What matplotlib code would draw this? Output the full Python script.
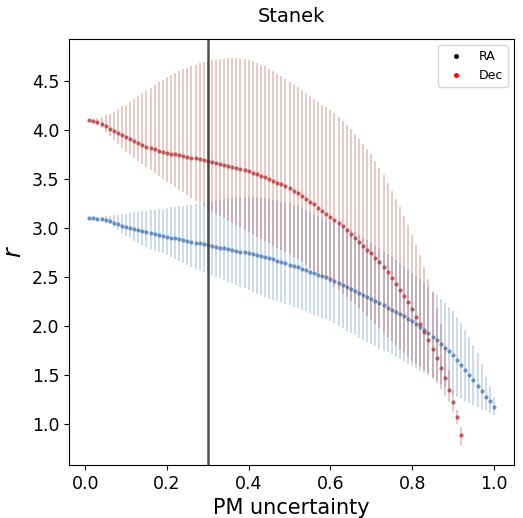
import numpy as np
import matplotlib
matplotlib.use('Agg')
from matplotlib import pyplot as plt

# PM uncertainty grid (0.01 steps)
pm_ra = np.round(np.arange(1, 101) / 100, 2)
pm_dec = np.round(np.arange(1, 93) / 100, 2)

# RA (blue): best r and lower / upper bounds
r_ra = [3.10, 3.10, 3.09, 3.09, 3.08, 3.07, 3.05, 3.04, 3.02, 3.01,
        3.00, 2.99, 2.98, 2.97, 2.96, 2.95, 2.94, 2.93, 2.92, 2.91,
        2.90, 2.90, 2.89, 2.88, 2.87, 2.86, 2.85, 2.85, 2.84, 2.83,
        2.82, 2.81, 2.80, 2.80, 2.79, 2.78, 2.77, 2.76, 2.75, 2.74,
        2.73, 2.72, 2.71, 2.70, 2.69, 2.68, 2.66, 2.65, 2.64, 2.62,
        2.61, 2.60, 2.58, 2.57, 2.55, 2.54, 2.52, 2.51, 2.50, 2.48,
        2.46, 2.44, 2.42, 2.40, 2.38, 2.36, 2.34, 2.32, 2.30, 2.28,
        2.26, 2.23, 2.21, 2.18, 2.16, 2.14, 2.12, 2.10, 2.07, 2.05,
        2.02, 1.99, 1.96, 1.93, 1.89, 1.86, 1.82, 1.78, 1.75, 1.70,
        1.65, 1.60, 1.55, 1.50, 1.45, 1.39, 1.34, 1.28, 1.23, 1.17]
r_ra_lo = [3.10, 3.09, 3.08, 3.07, 3.05, 3.04, 3.01, 2.98, 2.95, 2.92,
           2.90, 2.87, 2.85, 2.83, 2.81, 2.79, 2.77, 2.75, 2.74, 2.72,
           2.70, 2.68, 2.66, 2.64, 2.62, 2.60, 2.58, 2.57, 2.55, 2.54,
           2.52, 2.50, 2.49, 2.47, 2.45, 2.44, 2.42, 2.40, 2.39, 2.37,
           2.35, 2.33, 2.32, 2.30, 2.28, 2.27, 2.25, 2.24, 2.22, 2.21,
           2.19, 2.18, 2.16, 2.15, 2.13, 2.11, 2.10, 2.08, 2.07, 2.05,
           2.03, 2.00, 1.98, 1.95, 1.93, 1.91, 1.88, 1.86, 1.84, 1.82,
           1.80, 1.77, 1.75, 1.73, 1.71, 1.68, 1.66, 1.64, 1.61, 1.59,
           1.57, 1.54, 1.52, 1.50, 1.47, 1.45, 1.41, 1.38, 1.34, 1.31,
           1.28, 1.26, 1.23, 1.21, 1.19, 1.17, 1.15, 1.14, 1.11, 1.09]
r_ra_hi = [3.10, 3.11, 3.11, 3.11, 3.12, 3.12, 3.13, 3.13, 3.14, 3.14,
           3.15, 3.16, 3.16, 3.17, 3.17, 3.18, 3.18, 3.19, 3.19, 3.20,
           3.21, 3.21, 3.22, 3.22, 3.23, 3.23, 3.24, 3.24, 3.25, 3.26,
           3.27, 3.28, 3.29, 3.30, 3.30, 3.31, 3.31, 3.32, 3.32, 3.32,
           3.32, 3.32, 3.31, 3.31, 3.30, 3.29, 3.28, 3.27, 3.26, 3.25,
           3.23, 3.22, 3.20, 3.18, 3.16, 3.14, 3.12, 3.10, 3.08, 3.07,
           3.05, 3.04, 3.02, 3.00, 2.98, 2.96, 2.93, 2.90, 2.88, 2.85,
           2.82, 2.79, 2.76, 2.73, 2.70, 2.67, 2.64, 2.61, 2.57, 2.54,
           2.51, 2.48, 2.44, 2.40, 2.36, 2.32, 2.28, 2.23, 2.19, 2.15,
           2.09, 2.03, 1.96, 1.89, 1.81, 1.72, 1.61, 1.48, 1.38, 1.28]

# Dec (red): best r and lower / upper bounds
r_dec = [4.10, 4.09, 4.08, 4.06, 4.04, 4.01, 3.99, 3.97, 3.95, 3.93,
         3.91, 3.89, 3.87, 3.85, 3.83, 3.82, 3.81, 3.79, 3.78, 3.77,
         3.76, 3.75, 3.74, 3.73, 3.72, 3.71, 3.71, 3.70, 3.69, 3.68,
         3.67, 3.66, 3.65, 3.64, 3.63, 3.62, 3.61, 3.60, 3.59, 3.58,
         3.56, 3.55, 3.53, 3.52, 3.50, 3.48, 3.46, 3.45, 3.43, 3.41,
         3.38, 3.36, 3.33, 3.30, 3.27, 3.24, 3.20, 3.17, 3.14, 3.11,
         3.08, 3.05, 3.02, 2.98, 2.94, 2.90, 2.86, 2.82, 2.78, 2.74,
         2.69, 2.65, 2.60, 2.55, 2.49, 2.43, 2.37, 2.31, 2.24, 2.17,
         2.09, 2.02, 1.94, 1.86, 1.77, 1.67, 1.57, 1.47, 1.35, 1.22,
         1.07, 0.89]
r_dec_lo = [4.10, 4.08, 4.05, 4.02, 3.98, 3.94, 3.90, 3.86, 3.82, 3.78,
            3.75, 3.71, 3.68, 3.65, 3.62, 3.59, 3.56, 3.53, 3.50, 3.47,
            3.45, 3.42, 3.39, 3.37, 3.34, 3.31, 3.28, 3.25, 3.22, 3.19,
            3.17, 3.14, 3.12, 3.10, 3.07, 3.05, 3.03, 3.01, 2.98, 2.96,
            2.94, 2.91, 2.89, 2.87, 2.85, 2.82, 2.80, 2.78, 2.75, 2.73,
            2.70, 2.68, 2.65, 2.62, 2.59, 2.56, 2.53, 2.50, 2.47, 2.44,
            2.40, 2.37, 2.33, 2.30, 2.26, 2.22, 2.18, 2.14, 2.10, 2.06,
            2.02, 1.98, 1.93, 1.89, 1.85, 1.80, 1.76, 1.72, 1.68, 1.64,
            1.61, 1.58, 1.55, 1.52, 1.47, 1.42, 1.36, 1.29, 1.22, 1.12,
            1.00, 0.79]
r_dec_hi = [4.10, 4.11, 4.12, 4.13, 4.15, 4.16, 4.18, 4.21, 4.24, 4.26,
            4.29, 4.32, 4.35, 4.38, 4.40, 4.43, 4.46, 4.49, 4.51, 4.54,
            4.56, 4.58, 4.60, 4.62, 4.63, 4.65, 4.66, 4.68, 4.69, 4.70,
            4.71, 4.71, 4.72, 4.72, 4.73, 4.73, 4.73, 4.72, 4.72, 4.71,
            4.70, 4.68, 4.66, 4.65, 4.62, 4.60, 4.57, 4.55, 4.52, 4.49,
            4.47, 4.44, 4.41, 4.38, 4.35, 4.32, 4.29, 4.26, 4.23, 4.20,
            4.17, 4.13, 4.09, 4.05, 4.01, 3.96, 3.91, 3.86, 3.81, 3.75,
            3.68, 3.61, 3.54, 3.46, 3.38, 3.30, 3.21, 3.12, 3.03, 2.93,
            2.83, 2.72, 2.60, 2.48, 2.34, 2.18, 2.02, 1.80, 1.55, 1.34,
            1.14, 0.97]

r_ra = np.array(r_ra)
r_dec = np.array(r_dec)
err_ra = [r_ra - np.array(r_ra_lo), np.array(r_ra_hi) - r_ra]
err_dec = [r_dec - np.array(r_dec_lo), np.array(r_dec_hi) - r_dec]

blue = '#4a7db5'
red = '#b53a3a'

fig = plt.figure(figsize=(5.23, 5.18), dpi=100)
ax = fig.add_axes([0.132, 0.102, 0.851, 0.823])

ax.errorbar(pm_ra, r_ra, yerr=err_ra, fmt='none', ecolor=blue, alpha=0.28, elinewidth=1.4)
ax.plot(pm_ra, r_ra, 'o', color=blue, ms=3.0, alpha=0.8, mec='none')
ax.errorbar(pm_dec, r_dec, yerr=err_dec, fmt='none', ecolor=red, alpha=0.28, elinewidth=1.4)
ax.plot(pm_dec, r_dec, 'o', color=red, ms=3.0, alpha=0.8, mec='none')

# legend handles
ax.plot([], [], '.', color='k', ms=5, label='RA')
ax.plot([], [], '.', color='red', ms=5, label='Dec')

ax.axvline(0.3, color='#333333', lw=1.8, alpha=0.85)

ax.set_xlim(-0.0395, 1.0495)
ax.set_ylim(0.58, 4.93)
ax.set_yticks([1.0, 1.5, 2.0, 2.5, 3.0, 3.5, 4.0, 4.5])
ax.tick_params(labelsize=12.5)
ax.set_xlabel('PM uncertainty', fontsize=15)
ax.set_ylabel('$r$', fontsize=17)
ax.set_title('Stanek', fontsize=14, pad=12)
ax.legend(loc='upper right', fontsize=9)

fig.savefig('out.png', dpi=100)
